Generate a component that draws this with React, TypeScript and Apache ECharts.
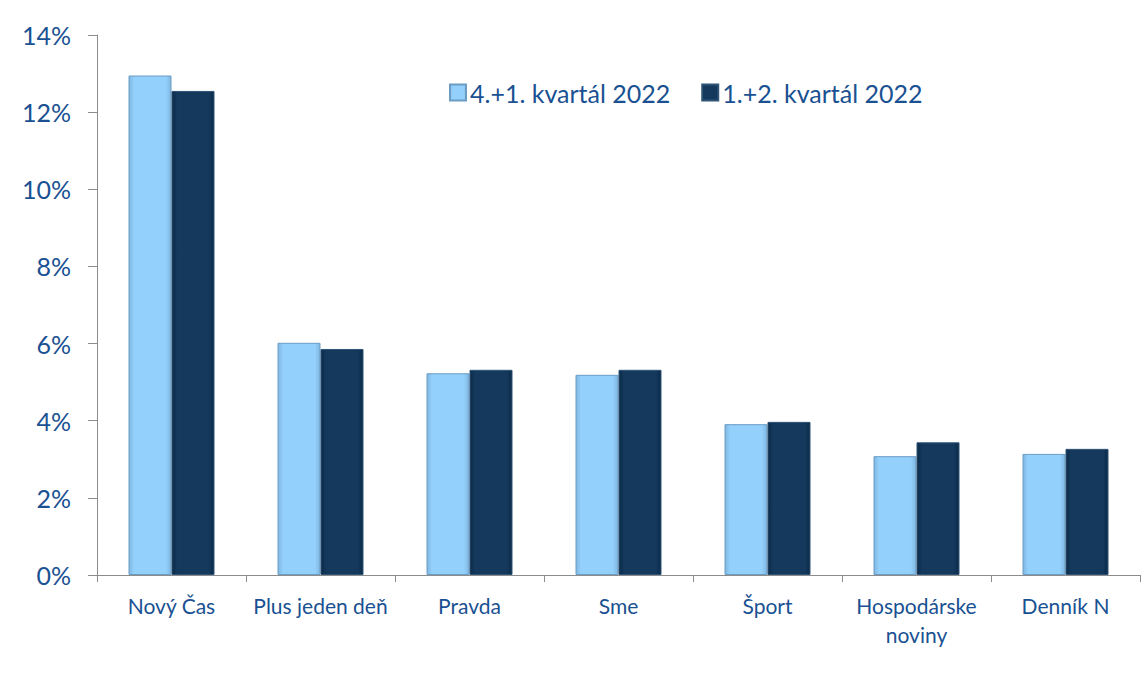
import React, { useEffect, useRef } from "react";
import * as echarts from "echarts";

const categories = ["Nový Čas", "Plus jeden deň", "Pravda", "Sme", "Šport", "Hospodárske\nnoviny", "Denník N"];
const seriesNames = ["4.+1. kvartál 2022", "1.+2. kvartál 2022"];
const valuesA = [12.95, 6.02, 5.23, 5.19, 3.91, 3.08, 3.14];
const valuesB = [12.55, 5.86, 5.32, 5.32, 3.97, 3.44, 3.27];

const textColor = "#1a5192";
const font = "Lato, Carlito, 'Open Sans', sans-serif";

function barGradient(edge: string, mid: string) {
  return new echarts.graphic.LinearGradient(0, 0, 1, 0, [
    { offset: 0, color: edge },
    { offset: 0.12, color: mid },
    { offset: 0.88, color: mid },
    { offset: 1, color: edge },
  ]);
}

export default function App() {
  const ref = useRef<HTMLDivElement>(null);
  useEffect(() => {
    const chart = echarts.init(ref.current!, null, { renderer: "svg" });
    chart.setOption({
      animation: false,
      backgroundColor: "#ffffff",
      grid: { left: 97, top: 35, right: 4, bottom: 112, containLabel: false },
      legend: {
        left: 444,
        top: 75,
        icon: "rect",
        itemWidth: 16,
        itemHeight: 16,
        itemGap: 31,
        textStyle: { color: textColor, fontSize: 25, fontFamily: font, padding: [0, 0, 0, -1] },
        data: seriesNames,
      },
      xAxis: {
        type: "category",
        data: categories,
        axisLine: { lineStyle: { color: "#8c8c8c", width: 1 } },
        axisTick: { show: true, length: 7, lineStyle: { color: "#8c8c8c" } },
        axisLabel: {
          color: textColor,
          fontSize: 21,
          fontFamily: font,
          margin: 16,
          lineHeight: 29,
          interval: 0,
        },
      },
      yAxis: {
        type: "value",
        min: 0,
        max: 14,
        interval: 2,
        axisLine: { show: true, lineStyle: { color: "#8c8c8c", width: 1 } },
        axisTick: { show: true, length: 9, lineStyle: { color: "#8c8c8c" } },
        splitLine: { show: false },
        axisLabel: {
          color: textColor,
          fontSize: 25,
          fontFamily: font,
          margin: 26,
          formatter: (v: number) => v + "%",
        },
      },
      series: [
        {
          name: seriesNames[0],
          type: "bar",
          data: valuesA,
          barWidth: 43,
          barGap: "0%",
          itemStyle: {
            color: barGradient("#7fb6e0", "#93d0fb"),
            borderColor: "#6a9cc4",
            borderWidth: 1,
          },
        },
        {
          name: seriesNames[1],
          type: "bar",
          data: valuesB,
          barWidth: 43,
          barGap: "0%",
          itemStyle: {
            color: barGradient("#0c2a47", "#14395d"),
            borderColor: "#2e5478",
            borderWidth: 1,
          },
        },
      ],
    });
    return () => chart.dispose();
  }, []);
  return (
    <div
      ref={ref}
      style={{ position: "fixed", left: 0, top: 0, width: 1144, height: 687, background: "#fff" }}
    />
  );
}
